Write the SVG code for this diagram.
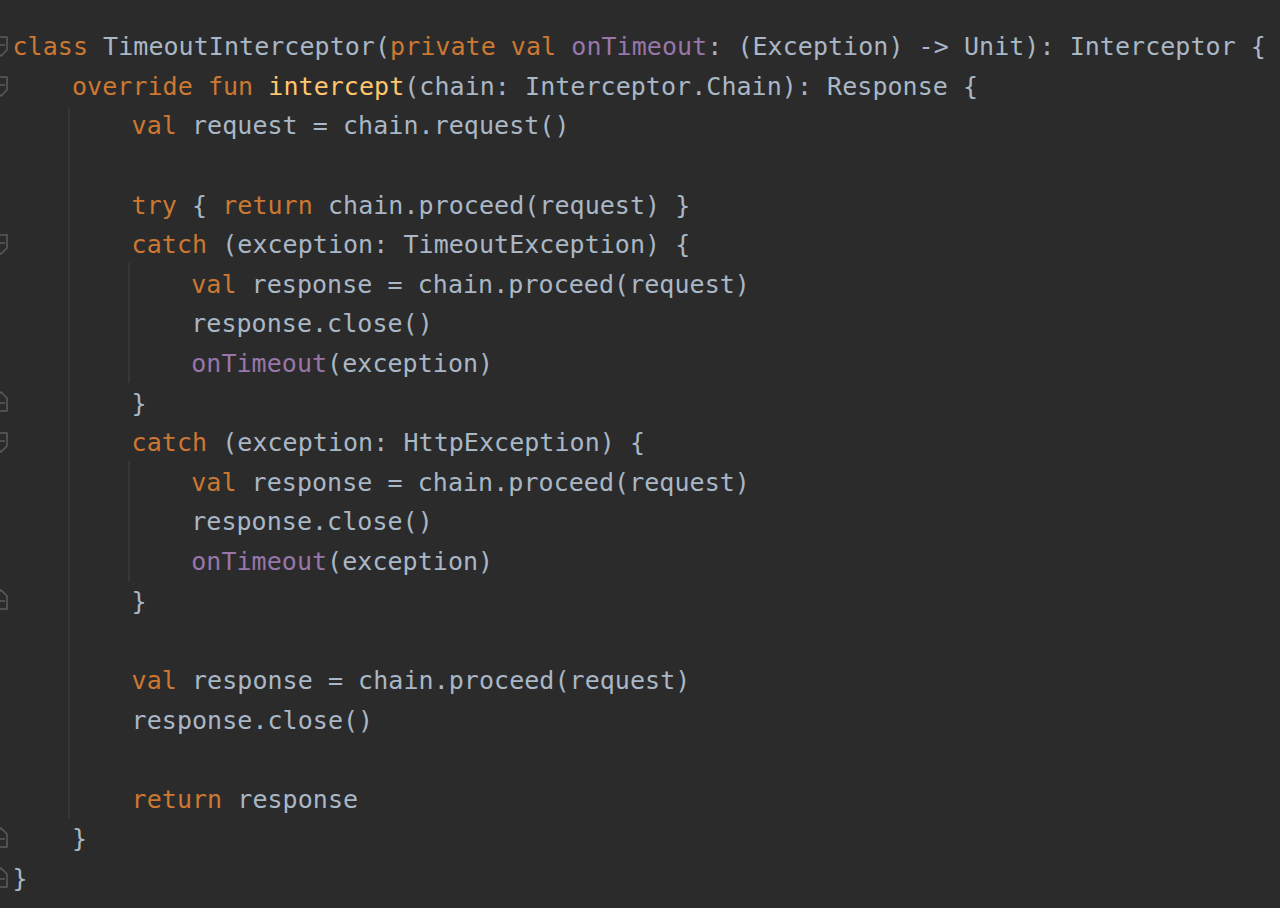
<svg xmlns="http://www.w3.org/2000/svg" width="1280" height="908" viewBox="0 0 1280 908">
<style>
.code{font-family:"DejaVu Sans Mono","Liberation Mono",monospace;font-size:25px;letter-spacing:0.05px;fill:#a9b7c6;white-space:pre}
.k{fill:#cc7832}
.f{fill:#ffc66d}
.p{fill:#9876aa}
.guide{stroke:#3d3d3d;stroke-width:1.5}
.fold{fill:none;stroke:#5c5c5c;stroke-width:1.5}
</style>
<defs>
<path id="foldStart" d="M-5 -9 H7 V4 L1 10 L-5 4 Z M-3 -1 H5"/>
<path id="foldEnd" d="M-5 9 H7 V-4 L1 -10 L-5 -4 Z M-3 1 H5"/>
</defs>
<rect width="1280" height="908" fill="#2b2b2b"/>
<g id="guides">
<line class="guide" x1="69" y1="108" x2="69" y2="818"/>
<line class="guide" x1="129" y1="263" x2="129" y2="383"/>
<line class="guide" x1="129" y1="461" x2="129" y2="581"/>
</g>
<g id="folds" class="fold">
<use href="#foldStart" x="0" y="46"/>
<use href="#foldStart" x="0" y="86"/>
<use href="#foldStart" x="0" y="244"/>
<use href="#foldEnd" x="0" y="402"/>
<use href="#foldStart" x="0" y="442"/>
<use href="#foldEnd" x="0" y="600"/>
<use href="#foldEnd" x="0" y="838"/>
<use href="#foldEnd" x="0" y="878"/>
</g>
<g id="code" class="code" xml:space="preserve">
<text x="12.5" y="55"><tspan class="k">class</tspan> TimeoutInterceptor(<tspan class="k">private val</tspan> <tspan class="p">onTimeout</tspan>: (Exception) -&gt; Unit): Interceptor {</text>
<text x="72" y="94.6"><tspan class="k">override fun</tspan> <tspan class="f">intercept</tspan>(chain: Interceptor.Chain): Response {</text>
<text x="131.6" y="134.2"><tspan class="k">val</tspan> request = chain.request()</text>
<text x="131.6" y="213.5"><tspan class="k">try</tspan> { <tspan class="k">return</tspan> chain.proceed(request) }</text>
<text x="131.6" y="253.1"><tspan class="k">catch</tspan> (exception: TimeoutException) {</text>
<text x="191.2" y="292.7"><tspan class="k">val</tspan> response = chain.proceed(request)</text>
<text x="191.2" y="332.4">response.close()</text>
<text x="191.2" y="372"><tspan class="p">onTimeout</tspan>(exception)</text>
<text x="131.6" y="411.6">}</text>
<text x="131.6" y="451.2"><tspan class="k">catch</tspan> (exception: HttpException) {</text>
<text x="191.2" y="490.8"><tspan class="k">val</tspan> response = chain.proceed(request)</text>
<text x="191.2" y="530.4">response.close()</text>
<text x="191.2" y="570.1"><tspan class="p">onTimeout</tspan>(exception)</text>
<text x="131.6" y="609.7">}</text>
<text x="131.6" y="688.9"><tspan class="k">val</tspan> response = chain.proceed(request)</text>
<text x="131.6" y="728.5">response.close()</text>
<text x="131.6" y="807.8"><tspan class="k">return</tspan> response</text>
<text x="72" y="847.4">}</text>
<text x="12.5" y="887">}</text>
</g>
</svg>
